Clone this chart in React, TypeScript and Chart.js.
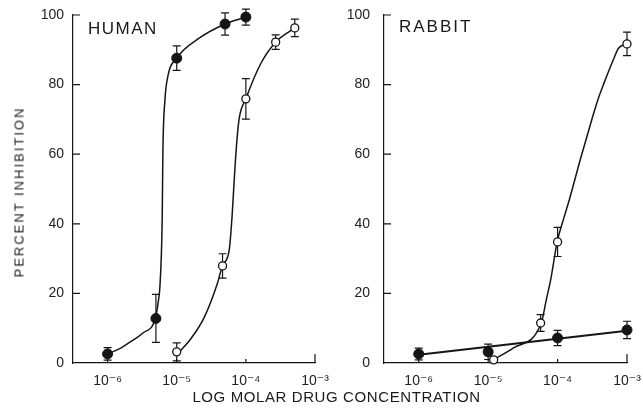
import React, { useEffect, useRef } from "react";
import { Chart, registerables } from "chart.js";
Chart.register(...registerables);

// ---- axes ----
const xTickValues = [1e-6, 1e-5, 1e-4, 1e-3];
const xTickLabels = ["10⁻⁶", "10⁻⁵", "10⁻⁴", "10⁻³"];
const yTickValues = [0, 20, 40, 60, 80, 100];
const xMin = 3.16e-7;
const xMax = 1e-3;

// ---- HUMAN ----
const humanFilledConc = [1e-6, 5e-6, 1e-5, 5e-5, 1e-4];
const humanFilledPct = [2.6, 12.8, 87.6, 97.4, 99.4];
const humanFilledErr = [1.8, 6.9, 3.5, 3.2, 2.3];

const humanOpenConc = [1e-5, 4.6e-5, 1e-4, 2.7e-4, 5.1e-4];
const humanOpenPct = [3.2, 27.9, 75.9, 92.2, 96.3];
const humanOpenErr = [2.6, 3.5, 5.8, 2.1, 2.5];

const humanFilledCurveConc = [1e-6, 1.55e-6, 2.34e-6, 3.24e-6, 4.9e-6, 5.37e-6, 5.75e-6, 6.17e-6, 6.31e-6, 6.76e-6, 7.41e-6, 1e-5, 2.14e-5, 5.01e-5, 1e-4];
const humanFilledCurvePct = [2.6, 4.3, 6.6, 8.6, 12.8, 17.2, 23, 42, 61, 75.6, 82.2, 87.6, 93.4, 97.4, 99.4];

const humanOpenCurveConc = [1.096e-5, 1.55e-5, 2.51e-5, 3.89e-5, 4.57e-5, 5.75e-5, 6.31e-5, 6.76e-5, 7.24e-5, 7.94e-5, 1e-4, 1.66e-4, 2.69e-4, 5.13e-4];
const humanOpenCurvePct = [3.2, 6.6, 13.2, 23, 27.9, 32.5, 42, 52, 61.2, 69.8, 75.9, 86.2, 92.2, 96.3];

// ---- RABBIT ----
const rabbitFilledConc = [1e-6, 1e-5, 1e-4, 1e-3];
const rabbitFilledPct = [2.6, 3.2, 7.2, 9.5];
const rabbitFilledErr = [1.7, 2.2, 2.2, 2.5];

const rabbitOpenConc = [1.2e-5, 5.7e-5, 1e-4, 1e-3];
const rabbitOpenPct = [0.9, 11.5, 34.8, 91.7];
const rabbitOpenErr = [0, 2.4, 4.2, 3.4];

const rabbitFilledLineConc = [1e-6, 1e-3];
const rabbitFilledLinePct = [2.4, 9.3];

const rabbitOpenCurveConc = [1.175e-5, 2.29e-5, 5.82e-5, 6.85e-5, 8.09e-5, 9.86e-5, 1.245e-4, 1.48e-4, 2.14e-4, 3.16e-4, 3.8e-4, 4.68e-4, 6.31e-4, 7.59e-4, 1e-3];
const rabbitOpenCurvePct = [0.9, 4.3, 11.5, 18, 24.7, 34.8, 42, 47, 58.7, 70.4, 75.6, 80.5, 87, 90.5, 91.7];

const INK = "#151515";
const FONT = "'Liberation Sans', 'DejaVu Sans', Arial, sans-serif";

const pts = (xs: number[], ys: number[]) => xs.map((x, i) => ({ x, y: ys[i] }));

const errorBarPlugin = {
  id: "errBars",
  beforeDatasetsDraw(chart: any) {
    const ctx = chart.ctx;
    const xs = chart.scales.x;
    const ys = chart.scales.y;
    ctx.save();
    ctx.strokeStyle = INK;
    ctx.lineWidth = 1.2;
    chart.data.datasets.forEach((ds: any) => {
      if (!ds.errors) return;
      ds.data.forEach((p: any, i: number) => {
        const e = ds.errors[i];
        if (!e) return;
        const px = xs.getPixelForValue(p.x);
        const lo = Math.max(0, p.y - e);
        const top = ys.getPixelForValue(p.y + e);
        const bot = ys.getPixelForValue(lo);
        ctx.beginPath();
        ctx.moveTo(px, top);
        ctx.lineTo(px, bot);
        ctx.moveTo(px - 4, top);
        ctx.lineTo(px + 4, top);
        ctx.moveTo(px - 4, bot);
        ctx.lineTo(px + 4, bot);
        ctx.stroke();
      });
    });
    ctx.restore();
  },
};

const inwardTicksPlugin = {
  id: "inwardTicks",
  afterDraw(chart: any) {
    const ctx = chart.ctx;
    const xs = chart.scales.x;
    const ys = chart.scales.y;
    const area = chart.chartArea;
    ctx.save();
    ctx.strokeStyle = INK;
    ctx.lineWidth = 1.2;
    ctx.beginPath();
    xTickValues.forEach((v, i) => {
      const px = xs.getPixelForValue(v);
      const len = i === xTickValues.length - 1 ? 9 : 4;
      ctx.moveTo(px, area.bottom);
      ctx.lineTo(px, area.bottom - len);
    });
    yTickValues.forEach((v) => {
      if (v === 0) return;
      const py = ys.getPixelForValue(v);
      ctx.moveTo(area.left, py);
      ctx.lineTo(area.left + 7, py);
    });
    ctx.stroke();
    ctx.restore();
  },
};

type PanelCfg = {
  filled: { conc: number[]; pct: number[]; err: number[] };
  open: { conc: number[]; pct: number[]; err: number[] };
  filledCurve: { conc: number[]; pct: number[]; width: number; monotone: boolean };
  openCurve: { conc: number[]; pct: number[] };
  yWidth: number;
  yPad: number;
  area: { left: number; right: number; top: number; bottom: number };
};

function makeChart(canvas: HTMLCanvasElement, cfg: PanelCfg) {
  const tickFont = { family: FONT, size: 14 };
  const padding = { left: 0, right: canvas.width - cfg.area.right, top: cfg.area.top, bottom: 0 };
  const chart = new Chart(canvas, {
    type: "scatter",
    data: {
      datasets: [
        {
          data: pts(cfg.filled.conc, cfg.filled.pct),
          errors: cfg.filled.err,
          showLine: false,
          pointRadius: 5,
          pointBackgroundColor: INK,
          pointBorderColor: INK,
          pointBorderWidth: 1,
          clip: false,
        } as any,
        {
          data: pts(cfg.open.conc, cfg.open.pct),
          errors: cfg.open.err,
          showLine: false,
          pointRadius: 4,
          pointBackgroundColor: "#ffffff",
          pointBorderColor: INK,
          pointBorderWidth: 1.3,
          clip: false,
        } as any,
        {
          data: pts(cfg.filledCurve.conc, cfg.filledCurve.pct),
          showLine: true,
          pointRadius: 0,
          borderColor: INK,
          borderWidth: cfg.filledCurve.width,
          cubicInterpolationMode: cfg.filledCurve.monotone ? "monotone" : "default",
          tension: 0,
          clip: false,
        } as any,
        {
          data: pts(cfg.openCurve.conc, cfg.openCurve.pct),
          showLine: true,
          pointRadius: 0,
          borderColor: INK,
          borderWidth: 1.5,
          cubicInterpolationMode: "monotone",
          clip: false,
        } as any,
      ],
    },
    options: {
      animation: false,
      responsive: false,
      maintainAspectRatio: false,
      events: [],
      layout: { padding },
      plugins: { legend: { display: false }, tooltip: { enabled: false } },
      scales: {
        x: {
          type: "logarithmic",
          min: xMin,
          max: xMax,
          afterBuildTicks: (s: any) => {
            s.ticks = xTickValues.map((v) => ({ value: v }));
          },
          afterFit: (s: any) => {
            s.height = 50;
          },
          ticks: {
            autoSkip: false,
            maxRotation: 0,
            padding: 0,
            color: "#222",
            font: tickFont,
            callback: (_v: any, i: number) => xTickLabels[i],
          },
          grid: { display: false, drawTicks: true, tickLength: 10 },
          border: { display: true, color: INK, width: 1.2 },
        },
        y: {
          min: 0,
          max: 100,
          afterBuildTicks: (s: any) => {
            s.ticks = yTickValues.map((v) => ({ value: v }));
          },
          afterFit: (s: any) => {
            s.width = cfg.yWidth;
          },
          ticks: {
            padding: 0,
            color: "#222",
            font: tickFont,
            callback: (v: any) => String(v),
          },
          grid: { display: false, drawTicks: true, tickLength: cfg.yPad },
          border: { display: true, color: INK, width: 1.2 },
        },
      },
    } as any,
    plugins: [errorBarPlugin, inwardTicksPlugin],
  });

  // nudge the layout padding so the plot area lands where the reference has it
  for (let k = 0; k < 3; k++) {
    const a = chart.chartArea;
    const dl = cfg.area.left - a.left;
    const dr = a.right - cfg.area.right;
    const dt = cfg.area.top - a.top;
    const db = a.bottom - cfg.area.bottom;
    if (Math.abs(dl) < 0.5 && Math.abs(dr) < 0.5 && Math.abs(dt) < 0.5 && Math.abs(db) < 0.5) break;
    const p = (chart.config as any).options.layout.padding;
    p.left += dl;
    p.right += dr;
    p.top += dt;
    p.bottom += db;
    chart.update();
  }
  return chart;
}

export default function App() {
  const leftRef = useRef<HTMLCanvasElement>(null);
  const rightRef = useRef<HTMLCanvasElement>(null);

  useEffect(() => {
    const a = makeChart(leftRef.current!, {
      filled: { conc: humanFilledConc, pct: humanFilledPct, err: humanFilledErr },
      open: { conc: humanOpenConc, pct: humanOpenPct, err: humanOpenErr },
      filledCurve: { conc: humanFilledCurveConc, pct: humanFilledCurvePct, width: 1.5, monotone: true },
      openCurve: { conc: humanOpenCurveConc, pct: humanOpenCurvePct },
      yWidth: 73,
      yPad: 9,
      area: { left: 73, right: 315, top: 15, bottom: 363 },
    });
    const b = makeChart(rightRef.current!, {
      filled: { conc: rabbitFilledConc, pct: rabbitFilledPct, err: rabbitFilledErr },
      open: { conc: rabbitOpenConc, pct: rabbitOpenPct, err: rabbitOpenErr },
      filledCurve: { conc: rabbitFilledLineConc, pct: rabbitFilledLinePct, width: 2, monotone: false },
      openCurve: { conc: rabbitOpenCurveConc, pct: rabbitOpenCurvePct },
      yWidth: 54,
      yPad: 14,
      area: { left: 54, right: 297, top: 15, bottom: 363 },
    });
    return () => {
      a.destroy();
      b.destroy();
    };
  }, []);

  const textStyle: React.CSSProperties = {
    position: "absolute",
    fontFamily: FONT,
    color: "#1a1a1a",
    whiteSpace: "nowrap",
  };

  return (
    <div style={{ position: "absolute", left: 0, top: 0, width: 643, height: 413, background: "#fff", overflow: "hidden" }}>
      <canvas ref={leftRef} width={330} height={413} style={{ position: "absolute", left: 0, top: 0, width: 330, height: 413 }} />
      <canvas ref={rightRef} width={313} height={413} style={{ position: "absolute", left: 330, top: 0, width: 313, height: 413 }} />
      <div style={{ ...textStyle, left: 88, top: 19, fontSize: 17, letterSpacing: "1.5px" }}>HUMAN</div>
      <div style={{ ...textStyle, left: 399, top: 17, fontSize: 17, letterSpacing: "2px" }}>RABBIT</div>
      <div style={{ ...textStyle, left: 0, width: 673, top: 388, textAlign: "center", fontSize: 15, letterSpacing: "0.6px" }}>
        LOG MOLAR DRUG CONCENTRATION
      </div>
      <div
        style={{
          ...textStyle,
          left: 19,
          top: 192,
          fontSize: 13,
          letterSpacing: "2px",
          transform: "translate(-50%, -50%) rotate(-90deg)",
        }}
      >
        PERCENT INHIBITION
      </div>
    </div>
  );
}
